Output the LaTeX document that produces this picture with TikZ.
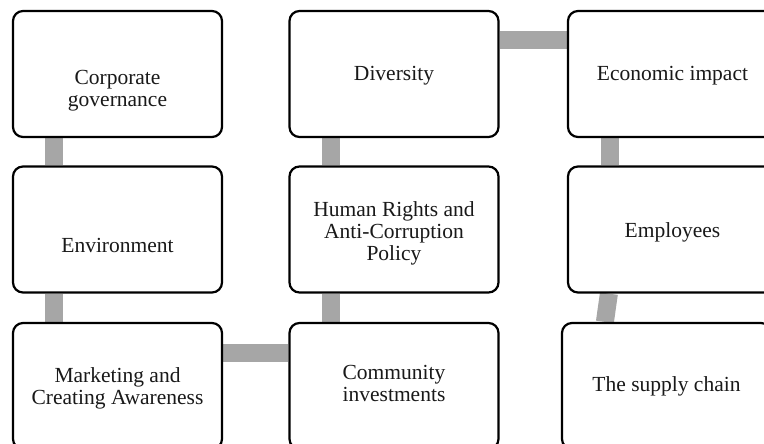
\documentclass[tikz,border=0pt]{standalone}
\usepackage{fontspec}
\setmainfont{Liberation Serif}
\usetikzlibrary{calc,backgrounds}
\begin{document}
\begin{tikzpicture}[x=1pt,y=-1pt,
  box/.style={draw=black, line width=2.2pt, rounded corners=10pt, fill=white,
    minimum width=209pt, minimum height=126pt, inner sep=0pt},
  txt/.style={inner sep=0pt, align=center, text=black!90,
    font=\fontsize{21.5pt}{22pt}\selectfont},
  conn/.style={draw=black!35, line width=18pt}]
\useasboundingbox (0,0) rectangle (764,444);
\node[box] (cg)  at (117.5,74)   {};
\node[box] (env) at (117.5,229.5){};
\node[box] (mkt) at (117.5,386)  {};
\node[box] (div) at (394,74)     {};
\node[box] (hr)  at (394,229.5)  {};
\node[box] (com) at (394,386)    {};
\node[box] (eco) at (672.5,74)   {};
\node[box] (emp) at (672.5,229.5){};
\node[box] (sup) at (666.5,386)  {};
\node[txt] (cgt)  at ($(cg)+(0,17)$)   {Corporate\\governance};
\node[txt] (envt) at ($(env)+(0,16)$)  {Environment};
\node[txt] (mktt) at ($(mkt)+(0,2.5)$) {Marketing and\\Creating Awareness};
\node[txt] (divt) at ($(div)+(0,2)$)   {Diversity};
\node[txt] (hrt)  at ($(hr)+(0,3.5)$)  {Human Rights and\\Anti-Corruption\\Policy};
\node[txt] (comt) at ($(com)+(0,-2.5)$){Community\\investments};
\node[txt] (ecot) at ($(eco)+(0,2)$)   {Economic impact};
\node[txt] (empt) at ($(emp)+(0,3)$)   {Employees};
\node[txt] (supt) at ($(sup)+(0,0)$)   {The supply chain};
\begin{scope}[on background layer]
  \draw[conn] ($(cg.south west)+(42,0)$) -- ($(env.north west)+(42,0)$);
  \draw[conn] ($(env.south west)+(42,0)$) -- ($(mkt.north west)+(42,0)$);
  \draw[conn] ($(mkt.north east)+(0,31)$) -- ($(com.north west)+(0,31)$);
  \draw[conn] ($(com.north west)+(43,0)$) -- ($(hr.south west)+(43,0)$);
  \draw[conn] ($(hr.north west)+(43,0)$) -- ($(div.south west)+(43,0)$);
  \draw[conn] ($(div.north east)+(0,30)$) -- ($(eco.north west)+(0,30)$);
  \draw[conn] ($(eco.south west)+(43,0)$) -- ($(emp.north west)+(43,0)$);
  \draw[conn] ($(emp.south west)+(42,0)$) -- ($(sup.north west)+(44,0)$);
\end{scope}
\end{tikzpicture}
\end{document}
